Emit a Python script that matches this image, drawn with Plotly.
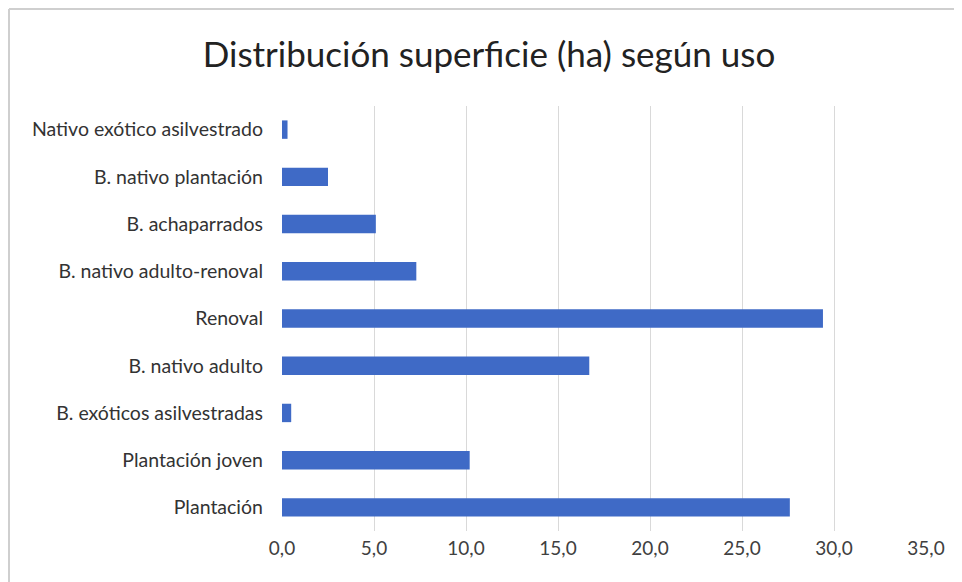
import plotly.graph_objects as go

categories = [
    "Plantación",
    "Plantación joven",
    "B. exóticos asilvestradas",
    "B. nativo adulto",
    "Renoval",
    "B. nativo adulto-renoval",
    "B. achaparrados",
    "B. nativo plantación",
    "Nativo exótico asilvestrado",
]
values = [27.6, 10.2, 0.5, 16.7, 29.4, 7.3, 5.1, 2.5, 0.3]
tick_vals = [0, 5, 10, 15, 20, 25, 30, 35]
tick_text = ["0,0", "5,0", "10,0", "15,0", "20,0", "25,0", "30,0", "35,0"]

W, H = 962, 582
L, R, T, B = 274, 44, 98, 59
pw, ph = W - L - R, H - T - B

def px(x):
    return (x - L) / pw

def py(y):
    return 1 - (y - T) / ph

fig = go.Figure(go.Bar(
    x=values, y=categories, orientation="h",
    marker=dict(color="#3F6AC6", line=dict(width=0)),
    width=0.39,
))

fig.update_layout(
    width=W, height=H,
    margin=dict(l=L, r=R, t=T, b=B),
    paper_bgcolor="white", plot_bgcolor="white",
    font=dict(family="Lato, Open Sans, sans-serif", color="#333333"),
    title=dict(text="Distribución superficie (ha) según uso",
               x=0.5, xanchor="center", y=1 - 47 / H, yanchor="middle",
               xref="container",
               font=dict(size=35, color="#222222", family="Lato, Open Sans, sans-serif")),
    showlegend=False,
    xaxis=dict(range=[0, 35], tickvals=tick_vals, ticktext=tick_text,
               showgrid=True, gridcolor="#d9d9d9", gridwidth=1,
               zeroline=False, showline=False, ticks="",
               tickfont=dict(size=19, color="#404040"), ticklabelstandoff=4),
    yaxis=dict(categoryorder="array", categoryarray=categories,
               showgrid=False, zeroline=False, showline=False, ticks="",
               tickfont=dict(size=19.5, color="#333333"), ticklabelstandoff=18),
    shapes=[
        dict(type="line", xref="paper", yref="paper",
             x0=px(1), x1=px(1), y0=py(1), y1=py(582),
             line=dict(color="#cfcfcf", width=2)),
        dict(type="line", xref="paper", yref="paper",
             x0=px(1), x1=px(962), y0=py(1), y1=py(1),
             line=dict(color="#cfcfcf", width=2)),
    ],
)

fig.write_html("out.html")
